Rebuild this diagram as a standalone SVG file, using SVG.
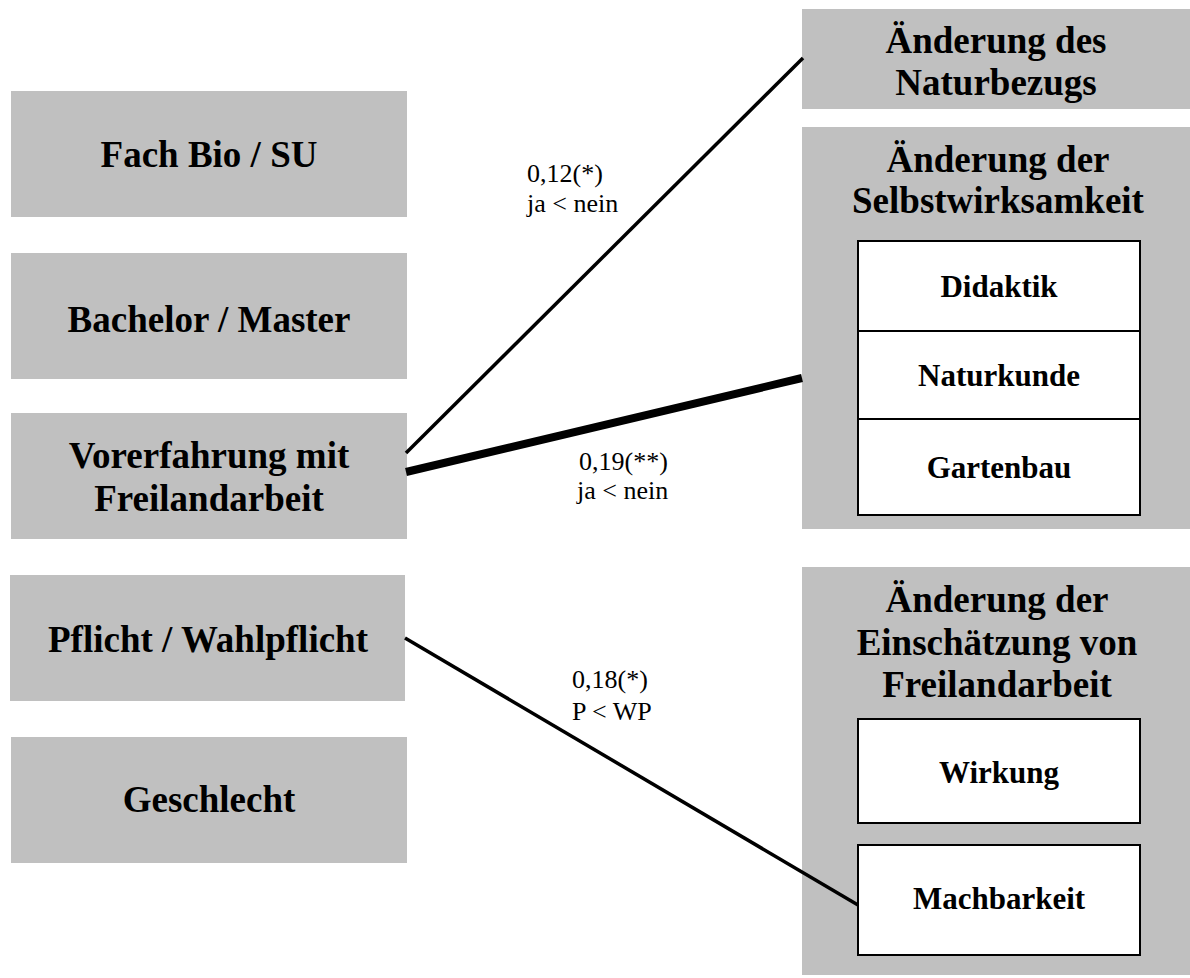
<svg xmlns="http://www.w3.org/2000/svg" width="1190" height="978" viewBox="0 0 1190 978">
  <style>
    .box { fill: #c0c0c0; stroke: none; }
    .sub { fill: #ffffff; stroke: #000000; stroke-width: 2; }
    .head { font-family: "Liberation Serif", "Times New Roman", serif; font-weight: bold; font-size: 37px; fill: #000; text-anchor: middle; }
    .item { font-family: "Liberation Serif", "Times New Roman", serif; font-weight: bold; font-size: 31px; fill: #000; text-anchor: middle; }
    .lbl { font-family: "Liberation Serif", "Times New Roman", serif; font-size: 26px; fill: #000; }
    .edge { stroke: #000; fill: none; stroke-linecap: butt; }
  </style>
  <rect width="1190" height="978" fill="#ffffff"/>

  <!-- predictor variables (left column) -->
  <g id="fach">
    <rect class="box" x="11" y="91" width="396" height="126"/>
    <text class="head" x="209" y="167">Fach Bio / SU</text>
  </g>
  <g id="abschluss">
    <rect class="box" x="11" y="253" width="396" height="126"/>
    <text class="head" x="209" y="332">Bachelor / Master</text>
  </g>
  <g id="vorerfahrung">
    <rect class="box" x="11" y="413" width="396" height="126"/>
    <text class="head" x="209" y="468">Vorerfahrung mit</text>
    <text class="head" x="209" y="511">Freilandarbeit</text>
  </g>
  <g id="pflicht">
    <rect class="box" x="10" y="575" width="395" height="126"/>
    <text class="head" x="208" y="652">Pflicht / Wahlpflicht</text>
  </g>
  <g id="geschlecht">
    <rect class="box" x="11" y="737" width="396" height="126"/>
    <text class="head" x="209" y="812">Geschlecht</text>
  </g>

  <!-- outcome variables (right column) -->
  <g id="naturbezug">
    <rect class="box" x="802" y="9" width="388" height="100"/>
    <text class="head" x="996" y="53">Änderung des</text>
    <text class="head" x="996" y="95">Naturbezugs</text>
  </g>
  <g id="selbstwirksamkeit">
    <rect class="box" x="802" y="127" width="388" height="402"/>
    <text class="head" x="998" y="172">Änderung der</text>
    <text class="head" x="998" y="213">Selbstwirksamkeit</text>
    <rect class="sub" x="858" y="241" width="282" height="90"/>
    <text class="item" x="999" y="297">Didaktik</text>
    <rect class="sub" x="858" y="331" width="282" height="88"/>
    <text class="item" x="999" y="386">Naturkunde</text>
    <rect class="sub" x="858" y="419" width="282" height="96"/>
    <text class="item" x="999" y="478">Gartenbau</text>
  </g>
  <g id="einschaetzung">
    <rect class="box" x="802" y="567" width="388" height="408"/>
    <text class="head" x="997" y="612">Änderung der</text>
    <text class="head" x="997" y="655">Einschätzung von</text>
    <text class="head" x="997" y="697">Freilandarbeit</text>
    <rect class="sub" x="858" y="719" width="282" height="104"/>
    <text class="item" x="999" y="783">Wirkung</text>
    <rect class="sub" x="858" y="845" width="282" height="110"/>
    <text class="item" x="999" y="909">Machbarkeit</text>
  </g>

  <!-- significant effects -->
  <g id="connectors">
    <line class="edge" x1="406" y1="453" x2="803" y2="58" stroke-width="3.5"/>
    <line class="edge" x1="406" y1="472" x2="802" y2="378" stroke-width="8"/>
    <line class="edge" x1="405" y1="638" x2="858" y2="905" stroke-width="3.5"/>
    <text class="lbl" x="527" y="182">0,12(*)</text>
    <text class="lbl" x="527" y="212">ja &lt; nein</text>
    <text class="lbl" x="579" y="470">0,19(**)</text>
    <text class="lbl" x="577" y="499">ja &lt; nein</text>
    <text class="lbl" x="572" y="688">0,18(*)</text>
    <text class="lbl" x="572" y="720">P &lt; WP</text>
  </g>
</svg>
